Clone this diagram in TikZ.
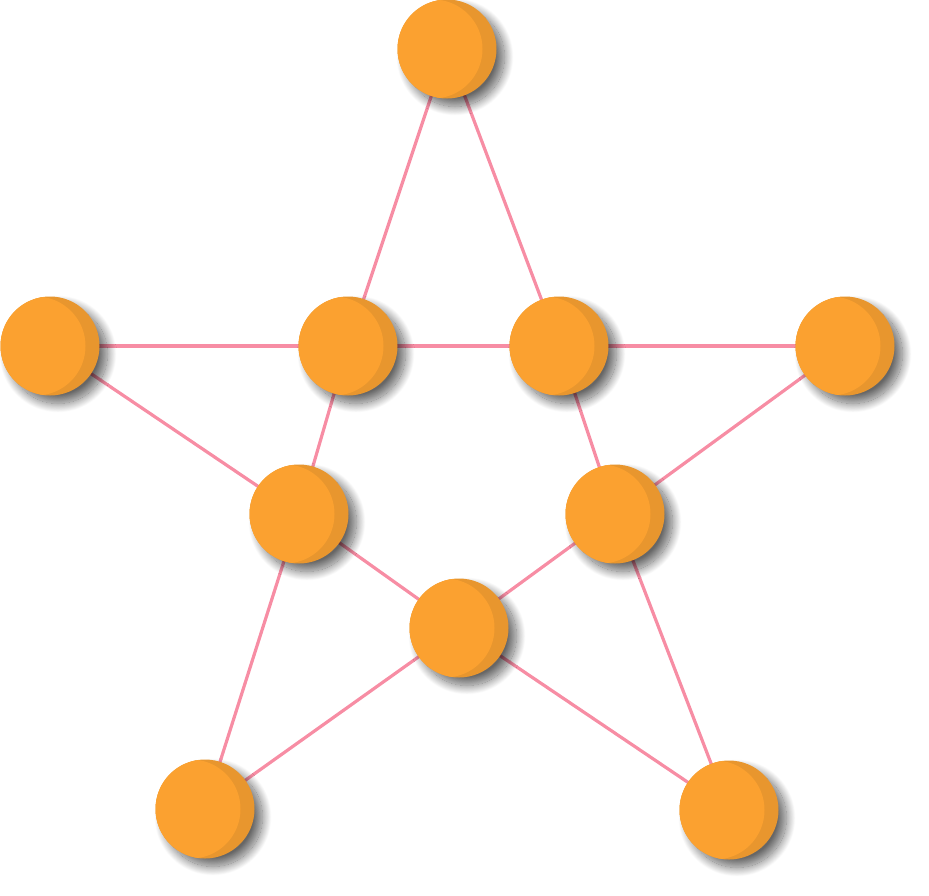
\documentclass[tikz,border=0pt]{standalone}
\usetikzlibrary{shadows.blur}
\definecolor{balllight}{HTML}{FBA130}
\definecolor{balldark}{HTML}{E8962E}
\definecolor{edgepink}{HTML}{F78DA4}
\begin{document}
\begin{tikzpicture}[x=1pt,y=-1pt,
  ball/.style={circle, minimum size=99pt, inner sep=0pt, fill=balldark,
    blur shadow={shadow xshift=8pt, shadow yshift=-8pt, shadow blur radius=9pt, shadow blur steps=25, shadow opacity=60},
    path picture={\fill[balllight] ([xshift=-14pt]path picture bounding box.center) circle (49.5pt);}},
  link/.style={draw=edgepink, line width=3.2pt}]
\useasboundingbox (0,0) rectangle (929,895);
\coordinate (p1) at (447,49);
\coordinate (p2) at (50,346);
\coordinate (p3) at (348,346);
\coordinate (p4) at (559,346);
\coordinate (p5) at (845,346);
\coordinate (p6) at (299,514);
\coordinate (p7) at (615,514);
\coordinate (p8) at (459,628);
\coordinate (p9) at (205,809);
\coordinate (p10) at (729,810);
\draw[link] (p1) -- (p3);
\draw[link] (p1) -- (p4);
\draw[link] (p2) -- (p3);
\draw[link] (p3) -- (p4);
\draw[link] (p4) -- (p5);
\draw[link] (p2) -- (p6);
\draw[link] (p3) -- (p6);
\draw[link] (p4) -- (p7);
\draw[link] (p5) -- (p7);
\draw[link] (p6) -- (p8);
\draw[link] (p7) -- (p8);
\draw[link] (p6) -- (p9);
\draw[link] (p9) -- (p8);
\draw[link] (p8) -- (p10);
\draw[link] (p7) -- (p10);
\foreach \i in {1,...,10} {\node[ball] (n\i) at (p\i) {};}
\end{tikzpicture}
\end{document}
